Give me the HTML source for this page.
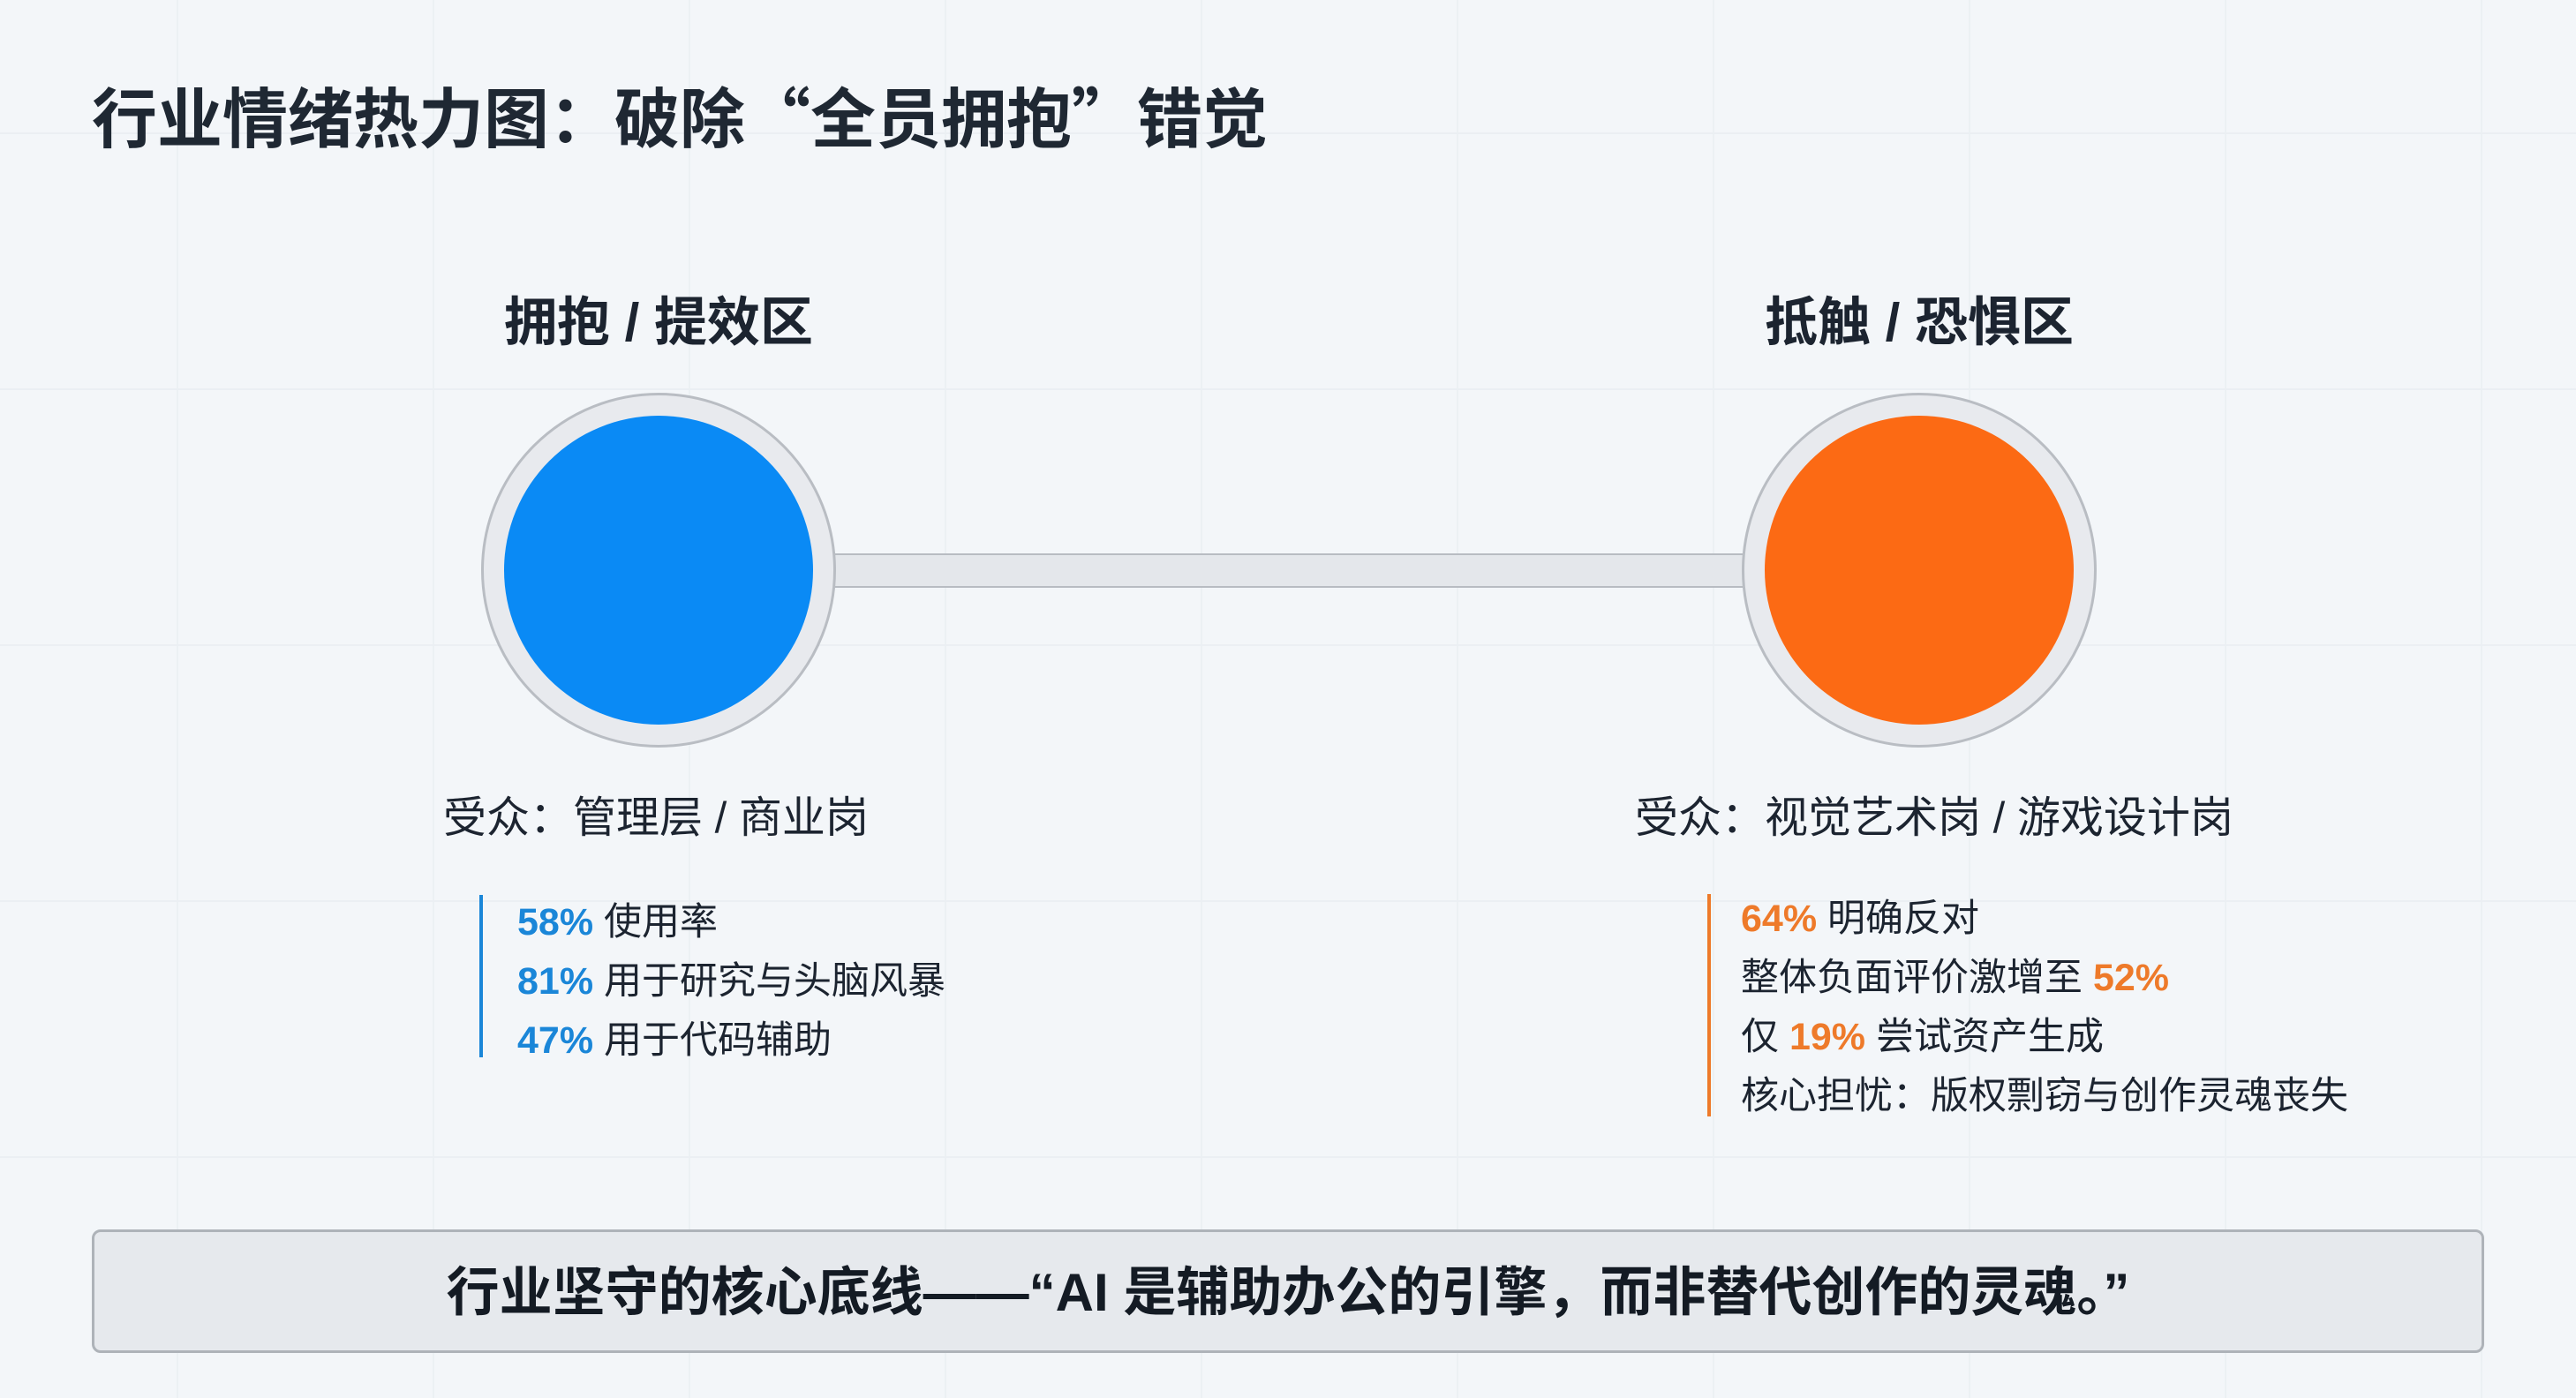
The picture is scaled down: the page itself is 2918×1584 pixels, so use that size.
<!DOCTYPE html>
<html><head><meta charset="utf-8"><style>
html,body{margin:0;padding:0}
body{width:2918px;height:1584px;position:relative;overflow:hidden;background:#f3f6f9;font-family:"Liberation Sans","Noto Sans CJK SC",sans-serif;color:#1c2430}
.grid{position:absolute;inset:0;background-image:linear-gradient(#e6ebf0 2px,transparent 2px),linear-gradient(90deg,#e9eef2 2px,transparent 2px);background-size:290px 290px;background-position:0 150px,200px 0;opacity:.6}
.t{position:absolute;white-space:nowrap}
.q{font-family:"Noto Sans CJK SC",sans-serif}
.circ{position:absolute;border-radius:50%;box-sizing:border-box}
.b{font-weight:bold}
.blue{color:#1a86d8;font-weight:bold}
.or{color:#ee7a2a;font-weight:bold}
</style></head><body>
<div class="grid"></div>
<div class="t b" style="left:104px;top:82px;font-size:74px;line-height:96px;color:#1f2833">行业情绪热力图：破除<span class="q">“</span>全员拥抱<span class="q">”</span>错觉</div>

<div class="t b" style="left:546px;width:400px;text-align:center;top:328px;font-size:60px;line-height:76px">拥抱 / 提效区</div>
<div class="t b" style="left:1974px;width:400px;text-align:center;top:328px;font-size:60px;line-height:76px">抵触 / 恐惧区</div>

<div style="position:absolute;left:930px;top:627px;width:1060px;height:39px;background:#e4e7eb;border-top:2px solid #b8bcc2;border-bottom:2px solid #b8bcc2;box-sizing:border-box"></div>

<div class="circ" style="left:545px;top:445px;width:402px;height:402px;background:#e8eaee;border:3px solid #b9bdc3"></div>
<div class="circ" style="left:571px;top:471px;width:350px;height:350px;background:#0a8af5"></div>
<div class="circ" style="left:1973px;top:445px;width:402px;height:402px;background:#e8eaee;border:3px solid #b9bdc3"></div>
<div class="circ" style="left:1999px;top:471px;width:350px;height:350px;background:#fc6a14"></div>

<div class="t" style="left:502px;top:898px;font-size:49px;line-height:58px">受众：管理层 / 商业岗</div>
<div class="t" style="left:1852px;top:898px;font-size:49px;line-height:58px">受众：视觉艺术岗 / 游戏设计岗</div>

<div style="position:absolute;left:543px;top:1014px;width:4px;height:184px;background:#1a86d8"></div>
<div class="t" style="left:586px;top:1012px;font-size:43px;line-height:67px"><span class="blue">58%</span> 使用率<br><span class="blue">81%</span> 用于研究与头脑风暴<br><span class="blue">47%</span> 用于代码辅助</div>

<div style="position:absolute;left:1934px;top:1013px;width:4px;height:252px;background:#ee7a2a"></div>
<div class="t" style="left:1972px;top:1008px;font-size:43px;line-height:67px"><span class="or">64%</span> 明确反对<br>整体负面评价激增至 <span class="or">52%</span><br>仅 <span class="or">19%</span> 尝试资产生成<br>核心担忧：版权剽窃与创作灵魂丧失</div>

<div style="position:absolute;left:104px;top:1393px;width:2710px;height:140px;box-sizing:border-box;background:#e6e9ed;border:3px solid #aeb3b9;border-radius:10px"></div>
<div class="t b" style="left:104px;width:2710px;text-align:center;top:1427px;font-size:60px;line-height:76px;color:#141b24">行业坚守的核心底线——“AI 是辅助办公的引擎，而非替代创作的灵魂。”</div>
</body></html>
